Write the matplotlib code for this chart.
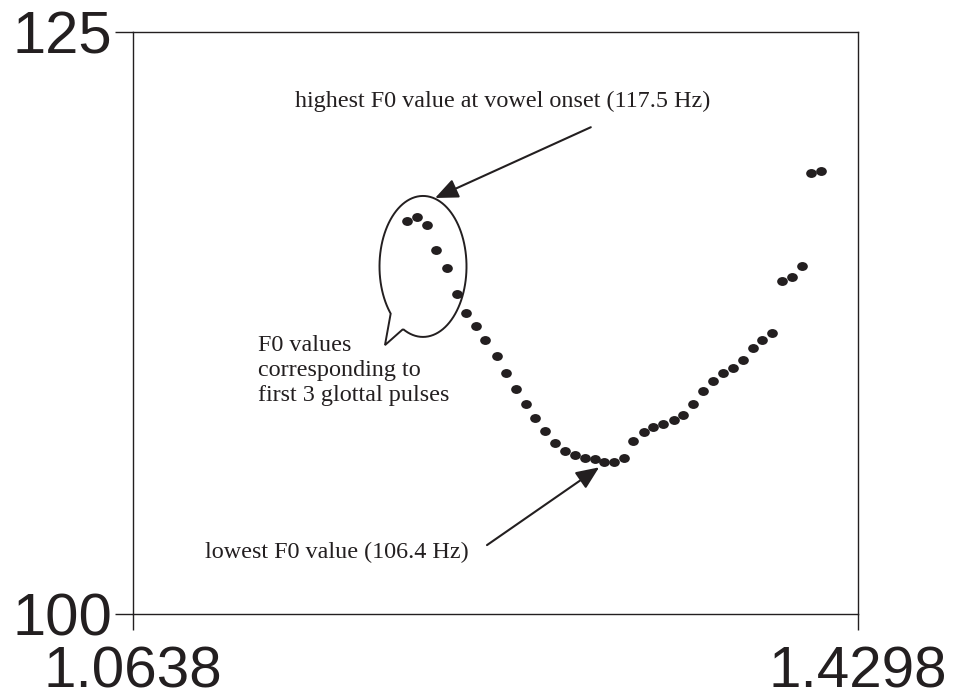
import numpy as np
import matplotlib
matplotlib.use('Agg')
import matplotlib.pyplot as plt
from matplotlib.path import Path
from matplotlib.markers import MarkerStyle
from matplotlib.transforms import Affine2D
from matplotlib.patches import PathPatch

# F0 track (time in s, F0 in Hz)
time_s = [1.2021, 1.2072, 1.2122, 1.2168, 1.2223, 1.2274, 1.2319, 1.2370, 1.2415,
          1.2476, 1.2521, 1.2571, 1.2622, 1.2667, 1.2718, 1.2768, 1.2819, 1.2869,
          1.2920, 1.2970, 1.3016, 1.3066, 1.3117, 1.3162, 1.3218, 1.3263, 1.3314,
          1.3369, 1.3415, 1.3465, 1.3516, 1.3566, 1.3617, 1.3667, 1.3718, 1.3768,
          1.3813, 1.3864, 1.3914, 1.3965, 1.4015, 1.4061, 1.4111]
f0_hz = [116.89, 117.04, 116.70, 115.64, 114.86, 113.73, 112.94, 112.37, 111.77,
         111.08, 110.34, 109.66, 109.01, 108.43, 107.85, 107.33, 107.00, 106.82,
         106.70, 106.67, 106.53, 106.51, 106.68, 107.42, 107.83, 108.05, 108.16,
         108.33, 108.55, 109.01, 109.59, 110.01, 110.34, 110.58, 110.91, 111.44,
         111.77, 112.06, 114.32, 114.49, 114.95, 118.96, 119.04]

x_ticks = [1.0638, 1.4298]
x_tick_labels = ['1.0638', '1.4298']
y_ticks = [100, 125]
y_tick_labels = ['100', '125']

ink = '#231f20'
sans = 'Liberation Sans'
serif = 'Liberation Serif'
note_size = 17.4

fig = plt.figure(figsize=(9.54, 6.99), dpi=100)
ax = fig.add_axes([0.1394, 0.1216, 0.760, 0.8326])

# slightly flattened dots
dot = MarkerStyle(Path.unit_circle().transformed(Affine2D().scale(1.2, 1.0)))
ax.plot(time_s, f0_hz, linestyle='none', marker=dot, markersize=7.7,
        color=ink, markeredgewidth=0)

ax.set_xlim(x_ticks[0], x_ticks[1])
ax.set_ylim(y_ticks[0], y_ticks[1])
ax.set_xticks(x_ticks)
ax.set_xticklabels(x_tick_labels)
ax.set_yticks(y_ticks)
ax.set_yticklabels(y_tick_labels)
ax.tick_params(axis='x', direction='out', length=11.5, width=1.0, pad=11,
               labelsize=42, colors=ink)
ax.tick_params(axis='y', direction='out', length=13, width=1.0, pad=2,
               labelsize=43, colors=ink)
for lab in ax.get_xticklabels() + ax.get_yticklabels():
    lab.set_fontfamily(sans)
for sp in ax.spines.values():
    sp.set_linewidth(1.0)
    sp.set_color(ink)

# speech bubble around first 3 pulses
cx, cy = 1.2102, 114.93
a, b = 0.02196, 3.028
th = np.deg2rad(np.linspace(242.7, 582.0, 200))
bx = list(cx + a * np.cos(th)) + [1.1910]
by = list(cy + b * np.sin(th)) + [111.55]
bx.append(bx[0])
by.append(by[0])
ax.add_patch(PathPatch(Path(np.column_stack([bx, by])), fill=False,
                       edgecolor=ink, linewidth=1.4, clip_on=False))

arrow = dict(arrowstyle='-|>,head_length=0.7,head_width=0.3', color=ink,
             lw=1.5, shrinkA=0, shrinkB=0, mutation_scale=20)

ax.text(1.3551, 122.04, 'highest F0 value at vowel onset (117.5 Hz)',
        ha='right', va='center', fontsize=note_size, family=serif, color=ink)
ax.annotate('', xy=(1.2163, 117.87), xytext=(1.2949, 120.91),
            arrowprops=arrow)

ax.text(1.1269, 110.44, 'F0 values\ncorresponding to\nfirst 3 glottal pulses',
        ha='left', va='center', fontsize=note_size, family=serif, color=ink,
        linespacing=1.25)

ax.text(1.1001, 102.66, 'lowest F0 value (106.4 Hz)',
        ha='left', va='center', fontsize=note_size, family=serif, color=ink)
ax.annotate('', xy=(1.2991, 106.3), xytext=(1.2425, 102.96),
            arrowprops=arrow)

fig.savefig('out.png', dpi=100)
